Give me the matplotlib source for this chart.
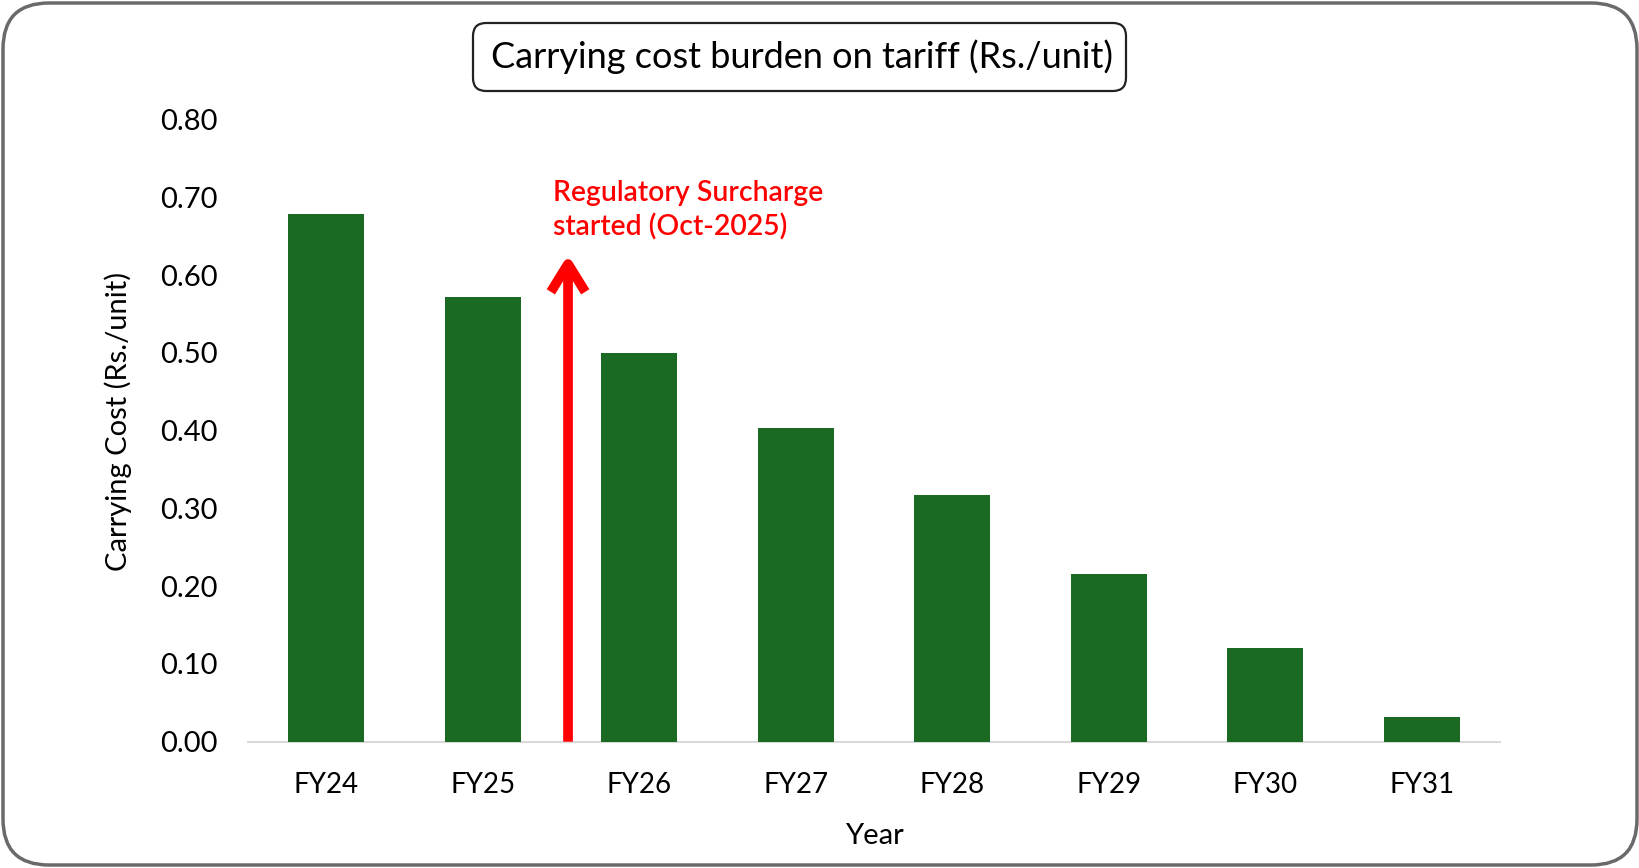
import matplotlib
matplotlib.use('Agg')
import matplotlib.pyplot as plt
from matplotlib.patches import FancyBboxPatch
import numpy as np

plt.rcParams['font.family'] = ['Lato', 'DejaVu Sans']

# data
years = ['FY24', 'FY25', 'FY26', 'FY27', 'FY28', 'FY29', 'FY30', 'FY31']
carrying_cost = [0.678, 0.572, 0.500, 0.403, 0.317, 0.216, 0.121, 0.032]
y_ticks = [0.0, 0.1, 0.2, 0.3, 0.4, 0.5, 0.6, 0.7, 0.8]

title = 'Carrying cost burden on tariff (Rs./unit)'
note = 'Regulatory Surcharge\nstarted (Oct-2025)'

W, H = 1640, 868
fig = plt.figure(figsize=(W / 100, H / 100), dpi=100)

# outer rounded frame
frame = FancyBboxPatch((3 / W, 3 / H), (W - 6) / W, (H - 6) / H,
                       boxstyle='round,pad=0,rounding_size=0.028',
                       transform=fig.transFigure, facecolor='none',
                       edgecolor='#6a6a6a', linewidth=2.5, mutation_aspect=W / H)
fig.patches.append(frame)

ax = fig.add_axes([248 / W, 1 - 741.7 / H, (1500 - 248) / W, (741.7 - 119.5) / H])
ax.set_facecolor('none')

x = np.arange(len(years))
ax.bar(x, carrying_cost, width=0.485, color='#1b6a24', zorder=2)

ax.set_xlim(-0.5, len(years) - 0.5)
ax.set_ylim(0, 0.8)
ax.set_yticks(y_ticks)
ax.set_yticklabels([f'{v:.2f}' for v in y_ticks])
ax.set_xticks(x)
ax.set_xticklabels(years)
ax.tick_params(axis='y', length=0, pad=22, labelsize=21, labelcolor='#000000')
ax.tick_params(axis='x', length=0, pad=22, labelsize=20, labelcolor='#000000')

for s in ['top', 'right', 'left']:
    ax.spines[s].set_visible(False)
ax.spines['bottom'].set_color('#d9d9d9')
ax.spines['bottom'].set_linewidth(1.5)
ax.spines['bottom'].set_zorder(1)

ax.set_xlabel('Year', fontsize=21, labelpad=17.5, color='#000000')
ax.set_ylabel('Carrying Cost (Rs./unit)', fontsize=21, color='#000000')
ax.yaxis.set_label_coords(-0.093, 0.514)

# red arrow marking the surcharge start
arrow_x = 1.545
arrow_top = 0.626
ax.annotate('', xy=(arrow_x, arrow_top), xytext=(arrow_x, 0),
            arrowprops=dict(arrowstyle='->,head_length=1.0,head_width=0.62',
                            color='#ff0000', lw=7, mutation_scale=20,
                            shrinkA=0, shrinkB=0, joinstyle='round',
                            capstyle='butt'),
            zorder=3)
ax.text(1.45, 0.722, note, color='#ff0000', fontsize=20.4, fontweight='semibold',
        va='top', ha='left', linespacing=1.33)

# title box
tbox = FancyBboxPatch((473 / W, 1 - 91 / H), (1126 - 473) / W, (91 - 23) / H,
                      boxstyle='round,pad=0,rounding_size=0.008',
                      transform=fig.transFigure, facecolor='white',
                      edgecolor='#222222', linewidth=1.6, mutation_aspect=W / H)
fig.patches.append(tbox)
fig.text(802 / W, 1 - 57 / H, title, fontsize=26, ha='center', va='center',
         color='#000000')

plt.savefig('out.png', dpi=100)
